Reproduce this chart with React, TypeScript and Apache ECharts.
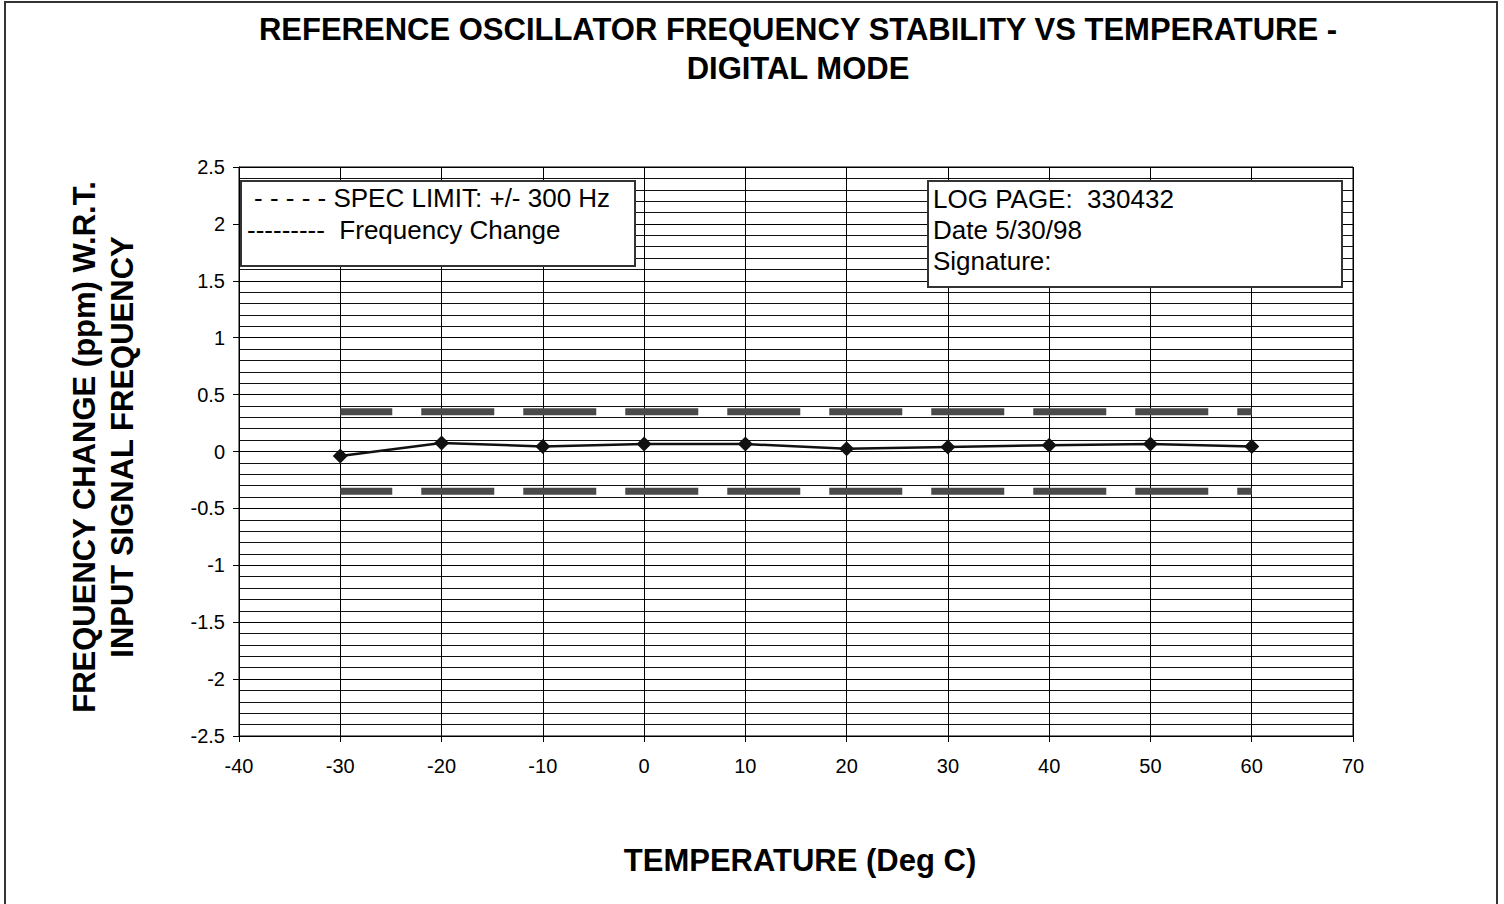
import React, { useEffect, useRef } from "react";
import * as echarts from "echarts";

const temperatures = [-30, -20, -10, 0, 10, 20, 30, 40, 50, 60];
const freqChange = [-0.04, 0.075, 0.045, 0.065, 0.065, 0.025, 0.04, 0.055, 0.065, 0.045];
const specLimit = 0.35;
const specRange = [-30, 60];
const titleLines = ["REFERENCE OSCILLATOR FREQUENCY STABILITY VS TEMPERATURE -", "DIGITAL MODE"];
const yTitleLines = ["FREQUENCY CHANGE (ppm) W.R.T.", "INPUT SIGNAL FREQUENCY"];
const xTitle = "TEMPERATURE (Deg C)";
const legendLines = ["- - - - - SPEC LIMIT: +/- 300 Hz", "---------  Frequency Change"];
const infoLines = ["LOG PAGE:  330432", "Date 5/30/98", "Signature:"];

const FONT = "'Liberation Sans', Arial, Helvetica, sans-serif";

export default function App() {
  const ref = useRef<HTMLDivElement>(null);
  useEffect(() => {
    document.body.style.margin = "0";
    const chart = echarts.init(ref.current!, null, { renderer: "svg" });
    const specStyle = {
      color: "#4a4a4a",
      width: 7,
      type: [73, 29] as number[],
      dashOffset: 21,
      cap: "butt" as const,
    };
    chart.setOption({
      animation: false,
      backgroundColor: "#fff",
      grid: {
        left: 239,
        right: 151,
        top: 167,
        bottom: 168,
        show: true,
        borderColor: "#000",
        borderWidth: 1,
        containLabel: false,
      },
      xAxis: {
        type: "value",
        min: -40,
        max: 70,
        interval: 10,
        axisLine: { show: true, onZero: false, lineStyle: { color: "#000", width: 1 } },
        axisTick: { show: true, length: 6, lineStyle: { color: "#000" } },
        axisLabel: { color: "#000", fontSize: 20, fontFamily: FONT, margin: 20 },
        splitLine: { show: true, lineStyle: { color: "#000", width: 1 } },
      },
      yAxis: {
        type: "value",
        min: -2.5,
        max: 2.5,
        interval: 0.5,
        axisLine: { show: true, onZero: false, lineStyle: { color: "#000", width: 1 } },
        axisTick: { show: true, length: 6, lineStyle: { color: "#000" } },
        minorTick: { show: false, splitNumber: 5 },
        minorSplitLine: { show: true, lineStyle: { color: "#111", width: 1 } },
        axisLabel: {
          color: "#000",
          fontSize: 20,
          fontFamily: FONT,
          margin: 14,
          formatter: (v: number) => String(Math.round(v * 10) / 10),
        },
        splitLine: { show: true, lineStyle: { color: "#000", width: 1 } },
      },
      series: [
        {
          type: "line",
          data: [
            [specRange[0], specLimit],
            [specRange[1], specLimit],
          ],
          symbol: "none",
          lineStyle: specStyle,
          z: 3,
        },
        {
          type: "line",
          data: [
            [specRange[0], -specLimit],
            [specRange[1], -specLimit],
          ],
          symbol: "none",
          lineStyle: specStyle,
          z: 3,
        },
        {
          type: "line",
          data: temperatures.map((t, i) => [t, freqChange[i]]),
          symbol: "diamond",
          symbolSize: 15,
          itemStyle: { color: "#111" },
          lineStyle: { color: "#111", width: 2.5 },
          z: 4,
        },
      ],
      graphic: [
        {
          type: "rect",
          shape: { x: 5, y: 2, width: 1492, height: 920 },
          style: { fill: "none", stroke: "#333", lineWidth: 2 },
          z: 100,
        },
        ...titleLines.map((t, i) => ({
          type: "text",
          x: 798,
          y: 29 + i * 39,
          style: {
            text: t,
            fill: "#000",
            font: `bold 31px ${FONT}`,
            textAlign: "center",
            textVerticalAlign: "middle",
          },
          z: 100,
        })),
        ...yTitleLines.map((t, i) => ({
          type: "text",
          x: 84 + i * 38,
          y: 447,
          rotation: Math.PI / 2,
          style: {
            text: t,
            fill: "#000",
            font: `bold 31px ${FONT}`,
            textAlign: "center",
            textVerticalAlign: "middle",
          },
          z: 100,
        })),
        {
          type: "text",
          x: 800,
          y: 860,
          style: {
            text: xTitle,
            fill: "#000",
            font: `bold 31px ${FONT}`,
            textAlign: "center",
            textVerticalAlign: "middle",
          },
          z: 100,
        },
        {
          type: "rect",
          shape: { x: 241, y: 181, width: 394, height: 85 },
          style: { fill: "#fff", stroke: "#333", lineWidth: 2 },
          z: 100,
        },
        ...legendLines.map((t, i) => ({
          type: "text",
          x: i === 0 ? 254 : 247,
          y: 198 + i * 32,
          style: {
            text: t,
            fill: "#000",
            font: `26px ${FONT}`,
            textAlign: "left",
            textVerticalAlign: "middle",
          },
          z: 101,
        })),
        {
          type: "rect",
          shape: { x: 928, y: 181, width: 414, height: 106 },
          style: { fill: "#fff", stroke: "#333", lineWidth: 2 },
          z: 100,
        },
        ...infoLines.map((t, i) => ({
          type: "text",
          x: 933,
          y: 199 + i * 31,
          style: {
            text: t,
            fill: "#000",
            font: `26px ${FONT}`,
            textAlign: "left",
            textVerticalAlign: "middle",
          },
          z: 101,
        })),
      ],
    });
    return () => chart.dispose();
  }, []);
  return <div ref={ref} style={{ width: 1504, height: 904 }} />;
}
